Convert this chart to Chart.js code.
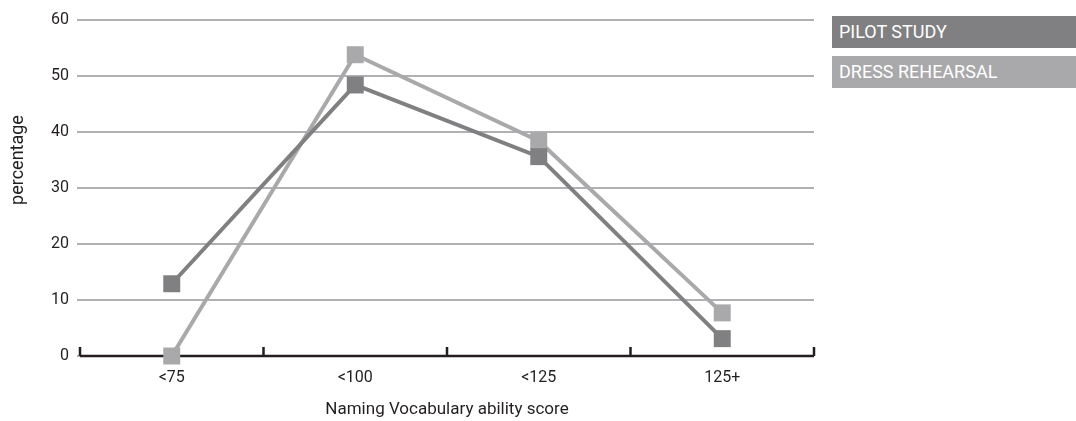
<!DOCTYPE html>
<html>
<head>
<meta charset="utf-8">
<script src="https://cdn.jsdelivr.net/npm/chart.js@4"></script>
<style>
  html, body { margin: 0; padding: 0; background: #fff; }
  #wrap { position: relative; width: 1076px; height: 421px; }
  canvas { position: absolute; left: 0; top: 0; }
  .leg { position: absolute; left: 832px; width: 244px; height: 32px; color: #fff;
         font-family: Roboto, sans-serif; font-size: 18px; line-height: 32px;
         padding-left: 7px; box-sizing: border-box; }
</style>
</head>
<body>
<div id="wrap">
  <canvas id="c" width="1076" height="421"></canvas>
  <div class="leg" id="leg0" style="top:16px;"></div>
  <div class="leg" id="leg1" style="top:56px;"></div>
</div>
<script>
const categories = ['<75', '<100', '<125', '125+'];
const seriesNames = ['PILOT STUDY', 'DRESS REHEARSAL'];
const pilotStudy = [12.9, 48.4, 35.6, 3.1];
const dressRehearsal = [0, 53.8, 38.4, 7.7];
const yTicks = [0, 10, 20, 30, 40, 50, 60];
const xTitle = 'Naming Vocabulary ability score';
const yTitle = 'percentage';

const colors = ['#808082', '#a9a9ab'];
document.getElementById('leg0').textContent = seriesNames[0];
document.getElementById('leg0').style.background = colors[0];
document.getElementById('leg1').textContent = seriesNames[1];
document.getElementById('leg1').style.background = colors[1];

const axisPlugin = {
  id: 'axisPlugin',
  beforeDatasetsDraw(chart) {
    const ctx = chart.ctx;
    const x = chart.scales.x;
    const y = chart.scales.y;
    const y0 = y.getPixelForValue(0);
    ctx.save();
    ctx.strokeStyle = '#231f20';
    ctx.lineWidth = 2.5;
    ctx.beginPath();
    ctx.moveTo(x.left, y0);
    ctx.lineTo(x.right, y0);
    const n = categories.length;
    for (let i = 0; i <= n; i++) {
      const px = x.left + (x.right - x.left) * i / n;
      ctx.moveTo(px, y0);
      ctx.lineTo(px, y0 - 9);
    }
    ctx.stroke();
    ctx.restore();
  },
  afterDraw(chart) {
    const ctx = chart.ctx;
    ctx.save();
    ctx.fillStyle = '#231f20';
    ctx.font = '18px Roboto, sans-serif';
    ctx.textAlign = 'center';
    ctx.textBaseline = 'middle';
    ctx.translate(18, 160);
    ctx.rotate(-Math.PI / 2);
    ctx.fillText(yTitle, 0, 0);
    ctx.restore();
  }
};

new Chart(document.getElementById('c'), {
  type: 'line',
  data: {
    labels: categories,
    datasets: [
      { label: seriesNames[0], data: pilotStudy, borderColor: colors[0], backgroundColor: colors[0],
        borderWidth: 4, pointStyle: 'rect', pointRadius: 12, pointHoverRadius: 12, pointBorderWidth: 0,
        tension: 0 },
      { label: seriesNames[1], data: dressRehearsal, borderColor: colors[1], backgroundColor: colors[1],
        borderWidth: 4, pointStyle: 'rect', pointRadius: 12, pointHoverRadius: 12, pointBorderWidth: 0,
        tension: 0 }
    ]
  },
  options: {
    responsive: false,
    animation: false,
    clip: false,
    layout: { padding: { left: 0, right: 262, top: 20, bottom: 0 } },
    plugins: { legend: { display: false }, tooltip: { enabled: false } },
    scales: {
      x: {
        offset: true,
        grid: { display: false },
        border: { display: false },
        ticks: { color: '#231f20', font: { family: 'Roboto, sans-serif', size: 16 }, padding: 4 },
        title: { display: true, text: xTitle, color: '#231f20',
                 font: { family: 'Roboto, sans-serif', size: 17 }, padding: { top: 0, bottom: 1 } },
        afterFit(scale) { scale.height = 65; }
      },
      y: {
        min: 0, max: 60,
        afterBuildTicks(scale) { scale.ticks = yTicks.map(v => ({ value: v })); },
        grid: { color: '#b1b1b3', lineWidth: 2, drawTicks: true, tickLength: 3 },
        border: { display: false },
        ticks: { color: '#231f20', font: { family: 'Roboto, sans-serif', size: 16 }, padding: 8 },
        afterFit(scale) { scale.width = 80; }
      }
    }
  },
  plugins: [axisPlugin]
});
</script>
</body>
</html>
